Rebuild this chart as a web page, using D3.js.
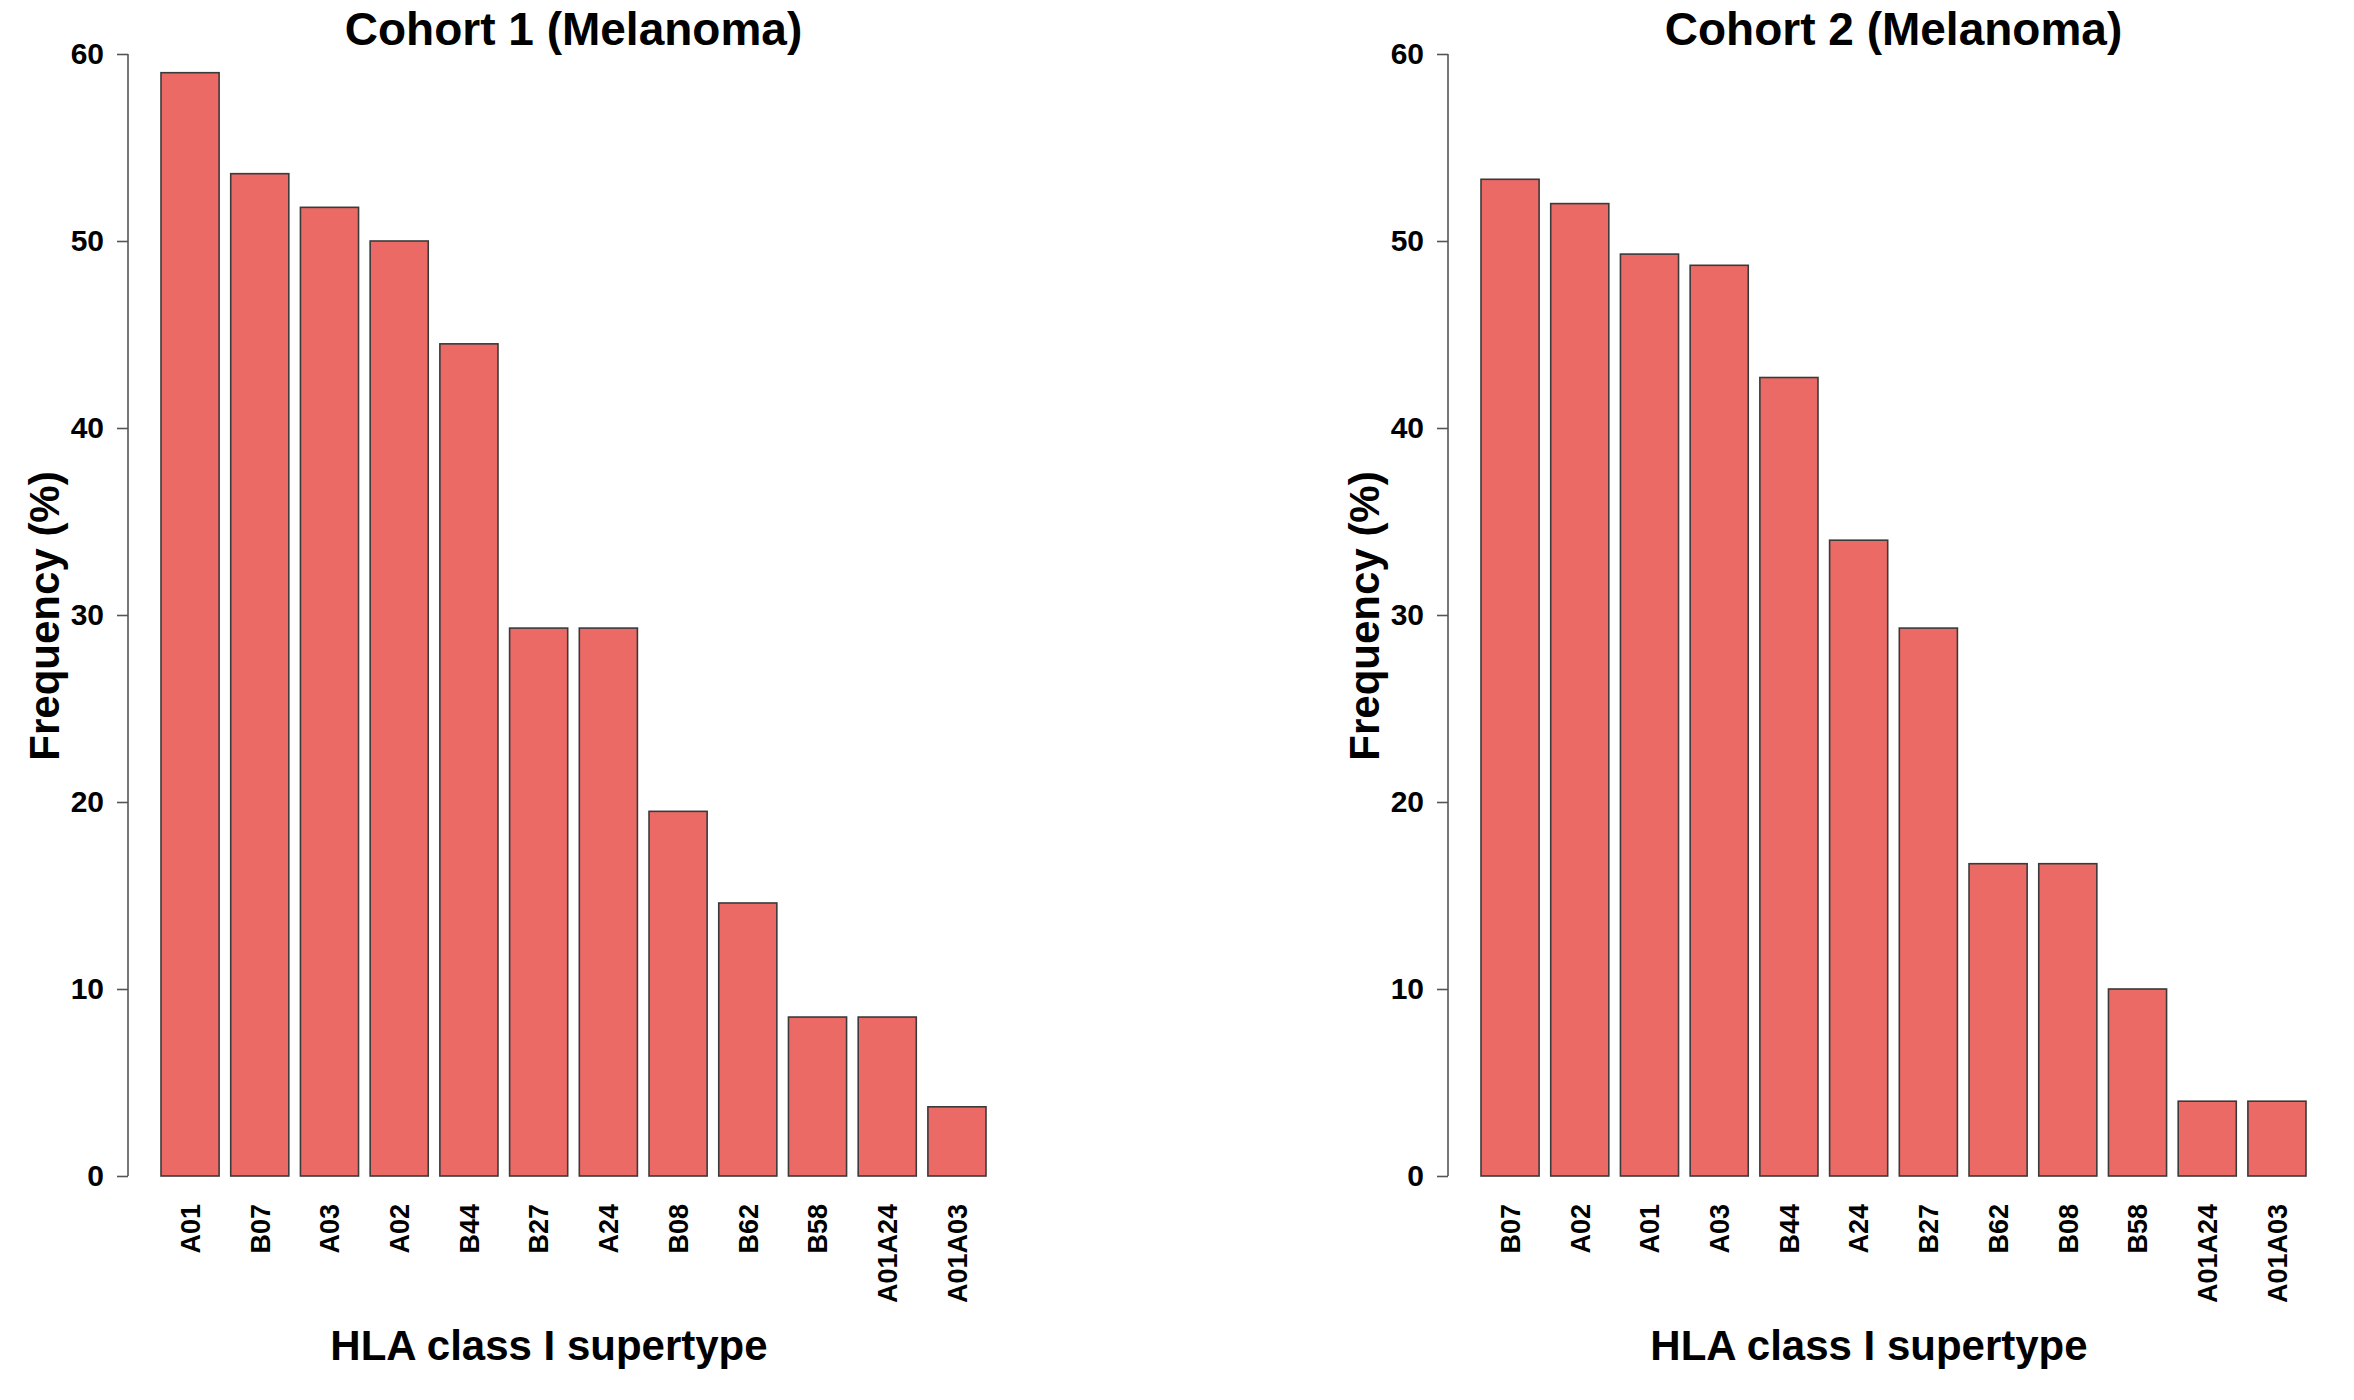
<!DOCTYPE html>
<html>
<head>
<meta charset="utf-8">
<script src="https://cdn.jsdelivr.net/npm/d3@7"></script>
<style>
  html, body { margin: 0; padding: 0; background: #ffffff; }
  svg { display: block; }
  text { font-family: "Liberation Sans", Arial, Helvetica, sans-serif; font-weight: bold; fill: #000; }
</style>
</head>
<body>
<svg id="chart" width="2354" height="1400"></svg>
<script>
// ---- data ----
const cohort1Title = "Cohort 1 (Melanoma)";
const cohort1Categories = ["A01", "B07", "A03", "A02", "B44", "B27", "A24", "B08", "B62", "B58", "A01A24", "A01A03"];
const cohort1Values = [59.0, 53.6, 51.8, 50.0, 44.5, 29.3, 29.3, 19.5, 14.6, 8.5, 8.5, 3.7];

const cohort2Title = "Cohort 2 (Melanoma)";
const cohort2Categories = ["B07", "A02", "A01", "A03", "B44", "A24", "B27", "B62", "B08", "B58", "A01A24", "A01A03"];
const cohort2Values = [53.3, 52.0, 49.3, 48.7, 42.7, 34.0, 29.3, 16.7, 16.7, 10.0, 4.0, 4.0];

const yTicks = [0, 10, 20, 30, 40, 50, 60];
const yDomain = [0, 60];
const xAxisTitle = "HLA class I supertype";
const yAxisTitle = "Frequency (%)";

// ---- layout ----
const svg = d3.select("#chart");
const barFill = "#EC6A66";
const barStroke = "#3a3a3a";

const panels = [
  { title: cohort1Title, cats: cohort1Categories, vals: cohort1Values, offset: 0 },
  { title: cohort2Title, cats: cohort2Categories, vals: cohort2Values, offset: 1320 }
];

const y = d3.scaleLinear().domain(yDomain).range([1176, 54]);

panels.forEach(p => {
  const g = svg.append("g").attr("transform", `translate(${p.offset},0)`);
  const x = d3.scaleBand()
    .domain(p.cats)
    .range([161, 986])
    .paddingInner(1 / 6)
    .paddingOuter(0);

  // bars
  g.selectAll("rect.bar")
    .data(p.cats.map((c, i) => ({ c, v: p.vals[i] })))
    .enter().append("rect")
    .attr("class", "bar")
    .attr("x", d => x(d.c))
    .attr("width", x.bandwidth())
    .attr("y", d => y(d.v))
    .attr("height", d => y(0) - y(d.v))
    .attr("fill", barFill)
    .attr("stroke", barStroke)
    .attr("stroke-width", 1.6);

  // y axis
  const yAxis = d3.axisLeft(y).tickValues(yTicks).tickSize(11).tickPadding(13).tickFormat(d3.format("d"));
  const ya = g.append("g").attr("transform", "translate(128,0)").call(yAxis);
  ya.select(".domain").attr("stroke", "#555").attr("stroke-width", 1.6).attr("d", `M-11,${y(0)}H0V${y(60)}H-11`)
    .attr("d", `M0,${y(0)}V${y(60)}`);
  ya.selectAll(".tick line").attr("stroke", "#555").attr("stroke-width", 1.6);
  ya.selectAll(".tick text")
    .attr("font-size", 30)
    .attr("font-family", "Liberation Sans, Arial, sans-serif")
    .attr("font-weight", "bold")
    .attr("fill", "#000");

  // x category labels (rotated)
  g.selectAll("text.xlab")
    .data(p.cats)
    .enter().append("text")
    .attr("class", "xlab")
    .attr("transform", d => `translate(${x(d) + x.bandwidth() / 2},1204) rotate(-90)`)
    .attr("text-anchor", "end")
    .attr("dy", "0.36em")
    .attr("font-size", 27)
    .text(d => d);

  // main title
  g.append("text")
    .attr("x", 573.5)
    .attr("y", 45)
    .attr("text-anchor", "middle")
    .attr("font-size", 46)
    .text(p.title);

  // x axis title
  g.append("text")
    .attr("x", 549)
    .attr("y", 1360)
    .attr("text-anchor", "middle")
    .attr("font-size", 42)
    .text(xAxisTitle);

  // y axis title
  g.append("text")
    .attr("transform", "translate(59,616) rotate(-90)")
    .attr("text-anchor", "middle")
    .attr("font-size", 42)
    .text(yAxisTitle);
});
</script>
</body>
</html>
